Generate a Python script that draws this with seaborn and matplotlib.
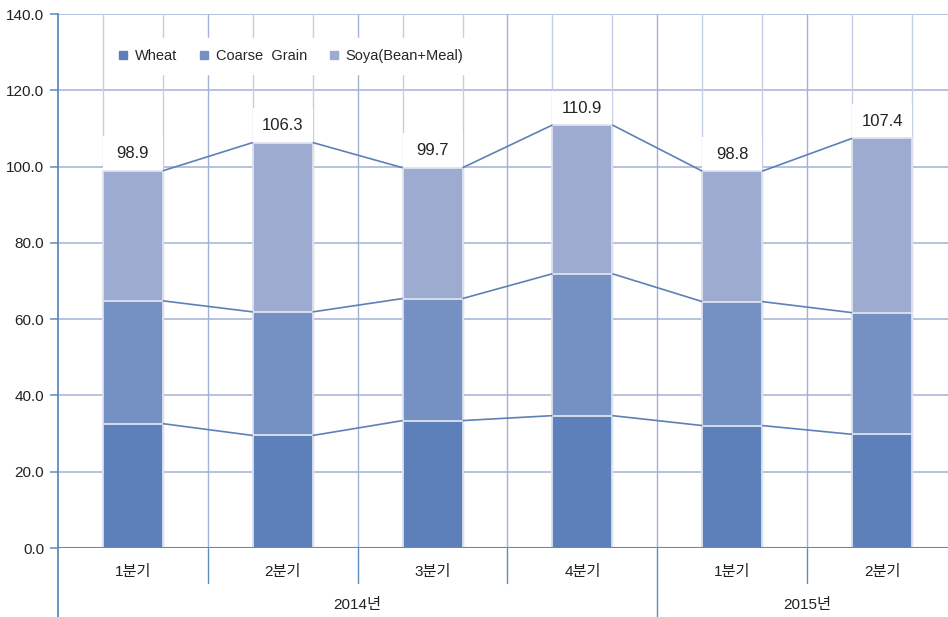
import matplotlib
matplotlib.use("Agg")
import matplotlib.pyplot as plt
import seaborn as sns
import pandas as pd
import numpy as np
from matplotlib.patches import Rectangle
from matplotlib.lines import Line2D
import matplotlib.transforms as mtransforms

# ---- data ----
periods = ["2014-Q1", "2014-Q2", "2014-Q3", "2014-Q4", "2015-Q1", "2015-Q2"]
quarter_labels = ["1분기", "2분기", "3분기", "4분기", "1분기", "2분기"]
years = ["2014년", "2015년"]
year_spans = [(0, 3), (4, 5)]
wheat = [32.6, 29.5, 33.4, 34.7, 32.1, 29.8]
coarse = [32.2, 32.4, 32.0, 37.2, 32.5, 31.9]
soya = [34.1, 44.4, 34.3, 39.0, 34.2, 45.7]
totals = [98.9, 106.3, 99.7, 110.9, 98.8, 107.4]
series_names = ["Wheat", "Coarse  Grain", "Soya(Bean+Meal)"]
yticks = [0, 20, 40, 60, 80, 100, 120, 140]

c_wheat = "#5e80ba"
c_coarse = "#7590c3"
c_soya = "#9cabcf"
grid_c = "#a3b3d6"
axis_c = "#5b8dba"

sns.set_theme(style="white")
plt.rcParams["font.family"] = ["Liberation Sans", "Noto Sans CJK KR", "DejaVu Sans"]

fig = plt.figure(figsize=(9.48, 6.17), dpi=100)
ax = fig.add_axes([58 / 948, (617 - 548) / 617, 899 / 948, 534 / 617])

df = pd.DataFrame({"period": periods, "wheat": wheat, "coarse": coarse, "soya": soya})
df["cum1"] = df["wheat"]
df["cum2"] = df["wheat"] + df["coarse"]
df["cum3"] = df["cum2"] + df["soya"]

bw = 0.4
for col, c in [("cum3", c_soya), ("cum2", c_coarse), ("cum1", c_wheat)]:
    sns.barplot(data=df, x="period", y=col, order=periods, color=c, width=bw,
                saturation=1, edgecolor="#dde3ef", linewidth=1.3, ax=ax, zorder=3)

ax.set_xlim(-0.5, 5.5)
ax.set_ylim(0, 140)

# gridlines
for y in yticks:
    ax.axhline(y, color=grid_c, lw=1.1, zorder=0)
for i in range(len(periods)):
    ax.axvline(i - bw / 2, color="#c3cde3", lw=1.0, zorder=0)
    ax.axvline(i + bw / 2, color="#c3cde3", lw=1.0, zorder=0)
    if i < len(periods) - 1:
        ax.axvline(i + 0.5, color=grid_c, lw=1.0, zorder=0)

# connector lines between bars
for col in ["cum1", "cum2", "cum3"]:
    v = df[col].values
    for i in range(len(v) - 1):
        ax.plot([i + bw / 2, i + 1 - bw / 2], [v[i], v[i + 1]], color="#5f80b6",
                lw=1.2, zorder=4, solid_capstyle="butt")

# total labels with white boxes
for i, t in enumerate(totals):
    ax.add_patch(Rectangle((i - bw / 2, t), bw, 9.0, facecolor="white",
                           edgecolor="none", zorder=2))
    ax.text(i, t + 4.4, f"{t:.1f}", ha="center", va="center", fontsize=12,
            color="#222222", zorder=5)

# axes styling
for s in ["top", "right", "bottom"]:
    ax.spines[s].set_visible(False)
ax.spines["left"].set_color(axis_c)
ax.spines["left"].set_linewidth(1.3)
ax.axhline(0, color=axis_c, lw=1.5, zorder=6)
ax.set_yticks(yticks)
ax.set_yticklabels([f"{y:.1f}" for y in yticks], fontsize=11, color="#222222")
ax.tick_params(axis="y", length=6, width=1.1, color=axis_c, pad=4, left=True)
ax.set_xticks(range(len(periods)))
ax.set_xticklabels(quarter_labels, fontsize=11, color="#222222")
ax.tick_params(axis="x", length=0, pad=12)
ax.set_xlabel("")
ax.set_ylabel("")

# lower separators & year labels
trans = mtransforms.blended_transform_factory(ax.transData, ax.transAxes)
ybot1 = -35 / 534
ybot2 = -75 / 534
for b in [0.5, 1.5, 2.5, 4.5]:
    ax.add_line(Line2D([b, b], [0, ybot1], transform=trans, color=axis_c,
                       lw=1.0, clip_on=False))
ax.add_line(Line2D([3.5, 3.5], [0, ybot2], transform=trans, color=axis_c,
                   lw=1.0, clip_on=False))
ax.add_line(Line2D([-0.5, -0.5], [0, ybot2], transform=trans, color=axis_c,
                   lw=1.3, clip_on=False))
for name, (a, b) in zip(years, year_spans):
    ax.text((a + b) / 2, -57 / 534, name, transform=trans, ha="center",
            va="center", fontsize=11, color="#222222")

# legend
handles = [Line2D([0], [0], marker="s", ls="none", markersize=6,
                  markerfacecolor=c, markeredgecolor=c)
           for c in [c_wheat, c_coarse, c_soya]]
leg = ax.legend(handles, series_names, loc="upper left",
                bbox_to_anchor=(0.045, 0.968), ncol=3, frameon=True,
                fontsize=10.5, handletextpad=0.35, columnspacing=1.4,
                borderpad=0.75, handlelength=0.9, fancybox=False)
leg.get_frame().set_facecolor("white")
leg.get_frame().set_edgecolor("white")
leg.get_frame().set_alpha(1)
leg.set_zorder(7)

fig.savefig("out.png", dpi=100)
